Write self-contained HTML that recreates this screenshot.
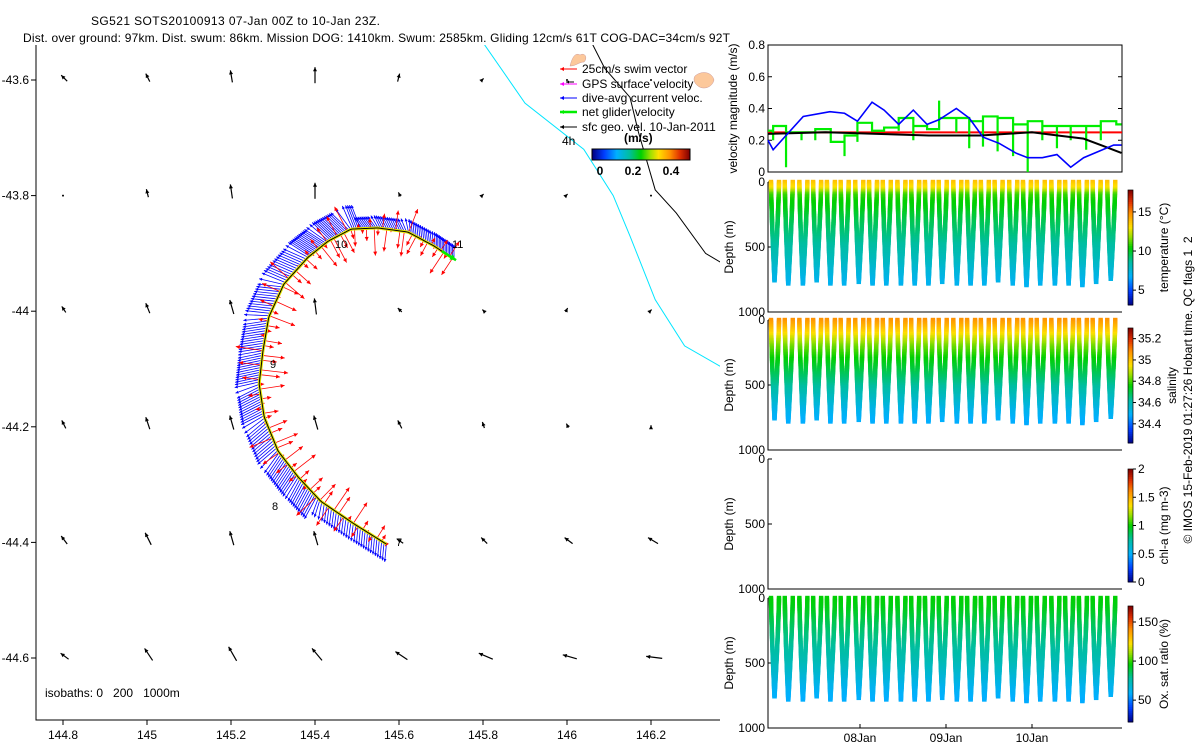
<!DOCTYPE html>
<html><head><meta charset="utf-8"><style>
html,body{margin:0;padding:0;background:#fff}
svg{display:block;font-family:"Liberation Sans",sans-serif}
</style></head><body>
<svg id="s" width="1200" height="750" xmlns="http://www.w3.org/2000/svg">
<text x="91" y="25" font-size="12" textLength="289">SG521 SOTS20100913 07-Jan 00Z to 10-Jan 23Z.</text>
<text x="23" y="42" font-size="12" textLength="707">Dist. over ground: 97km. Dist. swum: 86km. Mission DOG: 1410km. Swum: 2585km. Gliding 12cm/s 61T COG-DAC=34cm/s 92T</text>
<g id="map"></g>
<g id="vel"></g>
<g id="prof"></g>
<text transform="translate(1192,390) rotate(-90)" font-size="12" text-anchor="middle" style="white-space:pre">© IMOS 15-Feb-2019 01:27:26 Hobart time. QC flags 1  2</text>
</svg>
<script>
// ---- map data ----
const trackLon=[145.570,145.493,145.414,145.360,145.312,145.279,145.267,145.276,145.290,145.326,145.383,145.431,145.486,145.550,145.621,145.683,145.731];
const trackLat=[-44.403,-44.368,-44.329,-44.287,-44.242,-44.183,-44.126,-44.069,-44.010,-43.953,-43.907,-43.879,-43.858,-43.856,-43.863,-43.887,-43.910];
const gridLon=[144.8,145.0,145.2,145.4,145.6,145.8,146.0,146.2,146.4];
const gridLat=[-43.6,-43.8,-44.0,-44.2,-44.4,-44.6];
const geoU=[[-0.03,-0.02,-0.01,0.0,0.01,0.01,0,0,0],[0,-0.01,-0.01,0.0,-0.01,0.01,0.01,0,0],[-0.02,-0.02,-0.02,-0.01,-0.02,-0.01,0.01,0.01,0],[-0.02,-0.02,-0.02,-0.02,-0.02,-0.01,-0.01,0,0],[-0.03,-0.03,-0.02,-0.02,-0.03,-0.03,-0.04,-0.05,-0.02],[-0.04,-0.04,-0.04,-0.05,-0.06,-0.07,-0.07,-0.08,-0.06]];
const geoV=[[0.03,0.04,0.06,0.08,0.04,0.01,0,0,0],[0,0.04,0.07,0.08,0.02,0.01,0.01,0,0],[0.03,0.05,0.07,0.08,0.02,0.01,0.02,0.01,0],[0.04,0.06,0.07,0.07,0.04,0.03,0.02,0.01,0],[0.04,0.06,0.07,0.07,0.02,0.03,0.03,0.03,0.01],[0.03,0.06,0.07,0.06,0.04,0.03,0.02,0.01,0.0]];
const isoCyanLon=[145.795,145.9,146.04,146.11,146.15,146.21,146.28,146.40,146.56];
const isoCyanLat=[-43.53,-43.64,-43.72,-43.80,-43.87,-43.98,-44.06,-44.11,-44.15];
const isoBlackLon=[146.055,146.09,146.15,146.17,146.21,146.26,146.33,146.40,146.49,146.56];
const isoBlackLat=[-43.53,-43.58,-43.63,-43.69,-43.79,-43.83,-43.90,-43.93,-43.97,-43.99];
const lonTicks=[144.8,145,145.2,145.4,145.6,145.8,146,146.2];
const latTicks=[-43.6,-43.8,-44,-44.2,-44.4,-44.6];
// ---- velocity panel data (days since 07-Jan 00Z) ----
const blueT=[-0.07,-0.01,0.34,0.65,0.82,0.97,1.14,1.28,1.45,1.62,1.78,1.92,2.12,2.27,2.43,2.62,2.81,2.95,3.12,3.29,3.45,3.60,3.82,3.95,4.04];
const blueV=[0.20,0.14,0.35,0.38,0.37,0.32,0.44,0.39,0.30,0.39,0.30,0.33,0.40,0.34,0.22,0.18,0.12,0.09,0.09,0.11,0.03,0.09,0.14,0.17,0.17];
const greenT=[-0.07,-0.01,0.14,0.32,0.48,0.66,0.82,0.97,1.14,1.28,1.45,1.62,1.78,1.92,2.12,2.27,2.43,2.60,2.78,2.95,3.12,3.29,3.45,3.63,3.80,3.98];
const greenV=[0.26,0.29,0.25,0.25,0.27,0.19,0.23,0.31,0.26,0.28,0.34,0.29,0.27,0.34,0.34,0.32,0.35,0.34,0.30,0.32,0.29,0.29,0.29,0.29,0.32,0.30];
const greenSpike=[0.26,0.20,0.03,0.20,0.20,0.19,0.10,0.19,0.26,0.28,0.26,0.20,0.27,0.45,0.25,0.15,0.16,0.13,0.10,0.00,0.20,0.15,0.20,0.14,0.20,0.30];
const blackT=[-0.07,0.6,1.2,1.8,2.4,2.7,3.0,3.3,3.6,3.8,4.04];
const blackV=[0.24,0.25,0.24,0.23,0.23,0.24,0.25,0.23,0.21,0.17,0.12];
const redV=0.25;
const velTicks=[0,0.2,0.4,0.6,0.8];
// ---- profile data ----
const diveT=[0.0,0.16,0.33,0.49,0.65,0.81,0.98,1.14,1.30,1.47,1.63,1.79,1.95,2.12,2.28,2.44,2.60,2.77,2.93,3.09,3.26,3.42,3.58,3.74,3.91];
const diveMax=[760,790,790,760,780,790,770,790,790,780,790,790,770,780,790,790,760,780,800,780,790,780,800,770,750];
const profDepth=[0,50,100,150,200,300,400,500,600,700,800];
const tempProf=[13.8,13.0,11.0,10.5,10.3,9.6,9.1,8.6,8.1,7.5,7.0];
const salProf=[35.08,35.03,34.97,34.90,34.84,34.76,34.70,34.64,34.58,34.52,34.48];
const oxyProf=[96,95,93,90,87,82,78,74,68,62,58];
const dayLabels=["08Jan","09Jan","10Jan"];
const dayTicks=[1,2,3];

const NS="http://www.w3.org/2000/svg";
function el(tag,attrs,parent,txt){const e=document.createElementNS(NS,tag);for(const k in attrs)e.setAttribute(k,attrs[k]);if(txt!==undefined)e.textContent=txt;parent.appendChild(e);return e;}
const cmS=[0,0.12,0.25,0.38,0.5,0.6,0.68,0.8,0.9,1];
const cmC=[[0,0,130],[0,60,255],[0,176,255],[0,190,160],[0,208,0],[160,224,0],[255,224,0],[255,144,0],[224,48,0],[128,0,0]];
function jet(v){v=Math.max(0,Math.min(1,v));let i=0;while(i<cmS.length-2&&v>cmS[i+1])i++;const r=(v-cmS[i])/(cmS[i+1]-cmS[i]);const a=cmC[i],b=cmC[i+1];return `rgb(${Math.round(a[0]+(b[0]-a[0])*r)},${Math.round(a[1]+(b[1]-a[1])*r)},${Math.round(a[2]+(b[2]-a[2])*r)})`;}
const mx=lon=>63+(lon-144.8)*420, my=lat=>80+(-43.6-lat)*578;

// ---------- MAP ----------
const map=document.getElementById('map');
el('path',{d:'M36 45 V720 H720',fill:'none',stroke:'#000','stroke-width':1},map);
lonTicks.forEach(t=>{const x=mx(t);el('line',{x1:x,y1:720,x2:x,y2:725,stroke:'#000'},map);const tx=el('text',{x:x,y:739,'font-size':12,'text-anchor':'middle'},map,String(t));});
latTicks.forEach(t=>{const y=my(t);el('line',{x1:31,y1:y,x2:36,y2:y,stroke:'#000'},map);const tx=el('text',{x:29,y:y+4,'font-size':12,'text-anchor':'end'},map,String(t));});
const cl=document.createElementNS(NS,'clipPath');cl.id='mc';el('rect',{x:36,y:45,width:684,height:675},cl);map.appendChild(cl);
const mg=el('g',{'clip-path':'url(#mc)'},map);
function poly(lons,lats,col,name){const p=el('polyline',{points:lons.map((l,i)=>mx(l)+','+my(lats[i])).join(' '),fill:'none',stroke:col,'stroke-width':1},mg);}
poly(isoCyanLon,isoCyanLat,'#00e5ff','isobath-200m');
poly(isoBlackLon,isoBlackLat,'#000','isobath-1000m');
const land=el('path',{d:'M570 66 C572 58 575 52 580 55 C585 52 588 58 584 62 C579 62 576 66 570 66 Z M695 76 C702 70 712 72 714 80 C712 88 703 90 698 86 C694 83 693 79 695 76 Z',fill:'#fcc89b',stroke:'#c99','stroke-width':0.5},map);

function arrow(g,x,y,dx,dy,col,w,hs){el('line',{x1:x,y1:y,x2:x+dx,y2:y+dy,stroke:col,'stroke-width':w},g);const L=Math.hypot(dx,dy)||1,ux=dx/L,uy=dy/L;const hx=x+dx,hy=y+dy;el('polygon',{points:`${hx},${hy} ${hx-hs*ux-hs*0.5*uy},${hy-hs*uy+hs*0.5*ux} ${hx-hs*ux+hs*0.5*uy},${hy-hs*uy-hs*0.5*ux}`,fill:col},g);}
const geoG=el('g',{},mg);
gridLat.forEach((la,i)=>gridLon.forEach((lo,j)=>{const u=geoU[i][j],v=geoV[i][j];if(Math.hypot(u,v)<0.005){el('circle',{cx:mx(lo),cy:my(la),r:1,fill:'#000'},geoG);return;}const k=200;arrow(geoG,mx(lo)-u*k*0.7,my(la)+v*k*0.2,u*k,-v*k,'#000',1.2,4);}));
function interp(arrX,arrY,n){const out=[];for(let s=0;s<n;s++){const f=s/(n-1)*(arrX.length-1),i=Math.min(arrX.length-2,Math.floor(f)),r=f-i;out.push([arrX[i]+(arrX[i+1]-arrX[i])*r,arrY[i]+(arrY[i+1]-arrY[i])*r]);}return out;}
const pts=interp(trackLon.map(mx),trackLat.map(my),220);
const blueG=el('g',{},mg);
pts.forEach((p,i)=>{const q=pts[Math.min(i+1,pts.length-1)],o=pts[Math.max(i-1,0)];const tx=q[0]-o[0],ty=q[1]-o[1];const L=Math.hypot(tx,ty)||1;const nx=ty/L,ny=-tx/L;
 const len=i<30?16:(i<170?24:12);arrow(blueG,p[0],p[1],nx*len-tx/L*8,ny*len-ty/L*8,'#0000ff',0.8,3);});
const redG=el('g',{},mg);
pts.forEach((p,i)=>{if(i%2)return;const q=pts[Math.min(i+1,pts.length-1)],o=pts[Math.max(i-1,0)];const tx=q[0]-o[0],ty=q[1]-o[1];const L=Math.hypot(tx,ty)||1;const nx=-ty/L,ny=tx/L;const a=((i*37)%11-5)/6;const s=(i%3==0)?-1:1;arrow(redG,p[0],p[1],(s*nx+a*ty/L)*15,(s*ny-a*tx/L)*15,'#ff0000',0.8,4);});
const trk=el('polyline',{points:pts.map(p=>p.join(',')).join(' '),fill:'none',stroke:'#e8e800','stroke-width':3},mg);
el('polyline',{points:pts.map(p=>p.join(',')).join(' '),fill:'none',stroke:'#000','stroke-width':1},mg);
const last=pts[pts.length-1];arrow(mg,last[0]-12,last[1]-8,14,9,'#00ee00',2.5,6);
[['7',396,546],['8',272,510],['9',270,368],['10',335,248],['11',452,248]].forEach(t=>el('text',{x:t[1],y:t[2],'font-size':11},mg,t[0]));
const iso=el('text',{x:45,y:697,'font-size':12,style:'white-space:pre'},map,'isobaths: 0   200   1000m');
const lg=el('g',{},map);
[['#ff0000','25cm/s swim vector',73],['#ff00ff','GPS surface velocity',88],['#0000ff','dive-avg current veloc.',102],['#00ee00','net glider velocity',116],['#000000','sfc geo. vel. 10-Jan-2011',131]].forEach((r,i)=>{arrow(lg,577,r[2]-4,-17,0,r[0],i==3?2.5:1,4);const t=el('text',{x:582,y:r[2],'font-size':12},lg,r[1]);});
arrow(lg,574,82,-8,0,'#000',1,3);
el('text',{x:562,y:145,'font-size':12},lg,'4h');
el('text',{x:624,y:142,'font-size':12,'font-weight':'bold'},lg,'(m/s)');
const cb=el('g',{},lg);
for(let i=0;i<98;i++)el('rect',{x:592+i,y:149,width:1.2,height:11,fill:jet(i/97)},cb);
el('rect',{x:592,y:149,width:98,height:11,fill:'none',stroke:'#000'},cb);
[['0',600],['0.2',633],['0.4',671]].forEach(t=>el('text',{x:t[1],y:175,'font-size':12,'font-weight':'bold','text-anchor':'middle'},cb,t[0]));

// ---------- VELOCITY PANEL ----------
const X0=768,X1=1122;const tx=d=>774+d*86;
const vel=document.getElementById('vel');const vT=45,vB=172;const vy=v=>vB-(v/0.8)*(vB-vT);
el('path',{d:`M${X0} ${vT} V${vB} H${X1} V${vT} Z`,fill:'none',stroke:'#000'},vel);
velTicks.forEach(t=>{el('line',{x1:X0,y1:vy(t),x2:X0+4,y2:vy(t),stroke:'#000'},vel);el('line',{x1:X1,y1:vy(t),x2:X1-4,y2:vy(t),stroke:'#000'},vel);const l=el('text',{x:X0-3,y:vy(t)+4,'font-size':12,'text-anchor':'end'},vel,String(t));});
const yl=el('text',{transform:`translate(${X0-31},${(vT+vB)/2}) rotate(-90)`,'font-size':12,'text-anchor':'middle'},vel,'velocity magnitude (m/s)');
const rl=el('line',{x1:X0,y1:vy(redV),x2:X1,y2:vy(redV),stroke:'#ff0000','stroke-width':2},vel);
let gp=[];greenT.forEach((t,i)=>{const xa=tx(t),xb=tx(i+1<greenT.length?greenT[i+1]:4.04);gp.push(xa+','+vy(greenSpike[i]));gp.push(xa+','+vy(greenV[i]));gp.push(xb+','+vy(greenV[i]));});
const gl=el('polyline',{points:gp.join(' '),fill:'none',stroke:'#00ee00','stroke-width':2.2},vel);
const bkl=el('polyline',{points:blackT.map((t,i)=>tx(t)+','+vy(blackV[i])).join(' '),fill:'none',stroke:'#000','stroke-width':2},vel);
const bl=el('polyline',{points:blueT.map((t,i)=>tx(t)+','+vy(blueV[i])).join(' '),fill:'none',stroke:'#0000ff','stroke-width':1.6},vel);

// ---------- PROFILE PANELS ----------
const prof=document.getElementById('prof');
function interpProf(arr,d){for(let i=0;i<profDepth.length-1;i++){if(d<=profDepth[i+1]){const r=(d-profDepth[i])/(profDepth[i+1]-profDepth[i]);return arr[i]+(arr[i+1]-arr[i])*r;}}return arr[arr.length-1];}
const panels=[
 {top:182,name:'temperature',prof:tempProf,vmin:3.1,vmax:17.8,ticks:[5,10,15],label:'temperature (°C)',cbTop:190,cbBot:305},
 {top:320,name:'salinity',prof:salProf,vmin:34.22,vmax:35.30,ticks:[35.2,35,34.8,34.6,34.4],tl:['35.2','35','34.8','34.6','34.4'],label:'salinity',cbTop:328,cbBot:443},
 {top:459,name:'chlorophyll',prof:null,vmin:0,vmax:2,ticks:[0,0.5,1,1.5,2],label:'chl-a (mg m-3)',cbTop:469,cbBot:582},
 {top:598,name:'oxygen',prof:oxyProf,vmin:22,vmax:170.5,ticks:[50,100,150],label:'Ox. sat. ratio (%)',cbTop:606,cbBot:722}];
panels.forEach((P,pi)=>{const g=el('g',{},prof);
 const H=130,dy=d=>P.top+d/1000*H;
 el('path',{d:`M${X0} ${P.top} V${P.top+H} H${X1}`,fill:'none',stroke:'#000'},g);
 [0,500,1000].forEach(d=>{el('line',{x1:X0,y1:dy(d),x2:X0+4,y2:dy(d),stroke:'#000'},g);const t=el('text',{x:X0-3,y:dy(d)+4,'font-size':12,'text-anchor':'end'},g,String(d));});
 const yt=el('text',{transform:`translate(733,${P.top+H/2}) rotate(-90)`,'font-size':12,'text-anchor':'middle'},g,'Depth (m)');
 if(pi==3){dayTicks.forEach((d,i)=>{el('line',{x1:tx(d),y1:P.top+H,x2:tx(d),y2:P.top+H-4,stroke:'#000'},g);const t=el('text',{x:tx(d),y:P.top+H+14,'font-size':12,'text-anchor':'middle'},g,dayLabels[i]);});}
 if(P.prof){const sc=el('g',{},g);
  let html='';
  diveT.forEach((t,k)=>{const xs=tx(t)-3,mxd=diveMax[k];const xd=xs+3.5;const xe=xs+8;
   for(let d=0;d<=mxd;d+=12){const c=jet((interpProf(P.prof,d)-P.vmin)/(P.vmax-P.vmin));
    const f=Math.pow(d/mxd,1.3);const xa=xs+(xd-xs)*f,xb=xe-(xe-xd)*f;const y=dy(d);
    html+=`<rect x="${xa-2.2}" y="${y-2.2}" width="4.4" height="4.4" fill="${c}"/><rect x="${xb-2.2}" y="${y-2.2}" width="4.4" height="4.4" fill="${c}"/>`;
    if(pi==1&&d<120&&(k%3==0||k%4==1)&&d%36==0)html+=`<rect x="${xa-2}" y="${y+2}" width="4" height="4" fill="#b01000"/>`;}
  });sc.innerHTML=html;}
 const cg=el('g',{},g);
 const n=60,h=(P.cbBot-P.cbTop)/n;for(let i=0;i<n;i++)el('rect',{x:1128,y:P.cbBot-(i+1)*h,width:5,height:h+0.5,fill:jet((i+0.5)/n)},cg);
 el('rect',{x:1128,y:P.cbTop,width:5,height:P.cbBot-P.cbTop,fill:'none',stroke:'#000','stroke-width':0.7},cg);
 const cy=v=>P.cbBot-(v-P.vmin)/(P.vmax-P.vmin)*(P.cbBot-P.cbTop);
 P.ticks.forEach((v,i)=>{el('line',{x1:1133,y1:cy(v),x2:1136,y2:cy(v),stroke:'#000'},cg);el('text',{x:1138,y:cy(v)+4,'font-size':12},cg,P.tl?P.tl[i]:String(v));});
 const lt=el('text',{transform:`translate(${pi==1?1176:1168},${(P.cbTop+P.cbBot)/2}) rotate(-90)`,'font-size':12,'text-anchor':'middle'},cg,P.label);
});
</script>
</body></html>
